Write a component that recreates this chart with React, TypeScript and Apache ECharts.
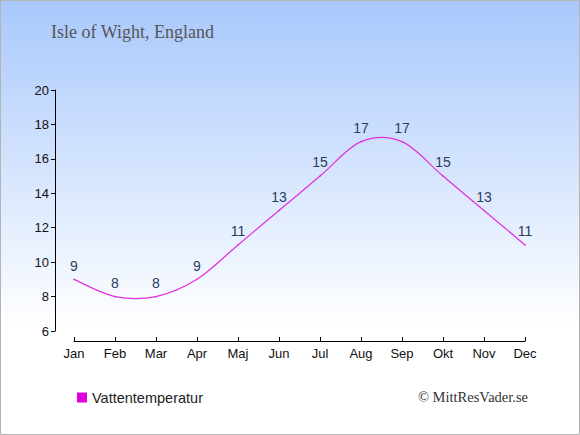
import React, { useEffect, useRef } from "react";
import * as echarts from "echarts";

const months = ["Jan", "Feb", "Mar", "Apr", "Maj", "Jun", "Jul", "Aug", "Sep", "Okt", "Nov", "Dec"];
const waterTemp = [9, 8, 8, 9, 11, 13, 15, 17, 17, 15, 13, 11];
const yTicks = { min: 6, max: 20, interval: 2 };
const titleText = "Isle of Wight, England";
const seriesName = "Vattentemperatur";
const credit = "© MittResVader.se";

export default function App() {
  const ref = useRef<HTMLDivElement>(null);
  useEffect(() => {
    if (!ref.current) return;
    const chart = echarts.init(ref.current, undefined, { renderer: "svg" });
    const n = waterTemp.length;
    chart.setOption({
      animation: false,
      backgroundColor: {
        type: "linear", x: 0, y: 0, x2: 0, y2: 1,
        colorStops: [
          { offset: 0, color: "#a8c8fc" },
          { offset: 0.75, color: "#ffffff" },
          { offset: 1, color: "#ffffff" },
        ],
      },
      title: {
        text: titleText,
        left: 46,
        top: 18,
        textStyle: { fontFamily: "Liberation Serif", fontSize: 18, fontWeight: "normal", color: "#555555" },
      },
      legend: {
        data: [{ name: seriesName, icon: "rect", itemStyle: { color: "#dd00dd", opacity: 1 } }],
        left: 72,
        top: 385,
        itemWidth: 10,
        itemHeight: 10,
        itemGap: 6,
        textStyle: { fontFamily: "Liberation Sans", fontSize: 14.5, color: "#222222" },
      },
      grid: { left: 74, right: 55, top: 90, bottom: 104 },
      xAxis: {
        type: "category",
        data: months,
        boundaryGap: false,
        offset: 10,
        axisLine: { lineStyle: { color: "#000", width: 1 } },
        axisTick: { alignWithLabel: true, length: 4, inside: true, lineStyle: { color: "#000" } },
        axisLabel: { fontFamily: "Liberation Sans", fontSize: 13, color: "#111", margin: 6 },
        splitLine: { show: false },
      },
      yAxis: {
        type: "value",
        min: yTicks.min,
        max: yTicks.max,
        interval: yTicks.interval,
        offset: 19,
        axisLine: { show: true, lineStyle: { color: "#000", width: 1 } },
        axisTick: { show: true, length: 4, lineStyle: { color: "#000" } },
        axisLabel: { fontFamily: "Liberation Sans", fontSize: 13, color: "#111", margin: 6 },
        splitLine: { show: false },
      },
      series: [
        {
          name: seriesName,
          type: "line",
          data: waterTemp,
          symbol: "circle",
          symbolSize: 1.5,
          showSymbol: true,
          itemStyle: { color: "#e030e0" },
          color: "#dd00dd",
          lineStyle: { width: 0, opacity: 0 },
          label: {
            show: true,
            position: "top",
            distance: 6,
            fontFamily: "Liberation Sans",
            fontSize: 14,
            color: "#2a3d5c",
          },
          z: 3,
        },
        {
          name: "curve",
          type: "custom",
          data: waterTemp.map((v, i) => [i, v]),
          silent: true,
          z: 2,
          renderItem: (params: any, api: any) => {
            const i = params.dataIndex;
            if (i >= n - 1) return null;
            const p = (j: number) => {
              const k = Math.max(0, Math.min(n - 1, j));
              return api.coord([k, waterTemp[k]]);
            };
            const p0 = p(i - 1), p1 = p(i), p2 = p(i + 1), p3 = p(i + 2);
            const c1 = [p1[0] + (p2[0] - p0[0]) / 6, p1[1] + (p2[1] - p0[1]) / 6];
            const c2 = [p2[0] - (p3[0] - p1[0]) / 6, p2[1] - (p3[1] - p1[1]) / 6];
            return {
              type: "bezierCurve",
              shape: { x1: p1[0], y1: p1[1], cpx1: c1[0], cpy1: c1[1], cpx2: c2[0], cpy2: c2[1], x2: p2[0], y2: p2[1] },
              style: { stroke: "#e030e0", lineWidth: 1.2, fill: "none" },
            };
          },
        },
      ],
      graphic: [
        {
          type: "text",
          right: 52,
          top: 389,
          style: { text: credit, fontFamily: "Liberation Serif", fontSize: 14.5, fill: "#333" },
        },
        {
          type: "rect",
          shape: { x: 0.5, y: 0.5, width: 579, height: 434 },
          style: { fill: "none", stroke: "#b4b4b4", lineWidth: 1 },
          silent: true,
        },
      ],
    });
    return () => chart.dispose();
  }, []);
  return <div ref={ref} style={{ position: "fixed", left: 0, top: 0, width: 580, height: 435 }} />;
}
